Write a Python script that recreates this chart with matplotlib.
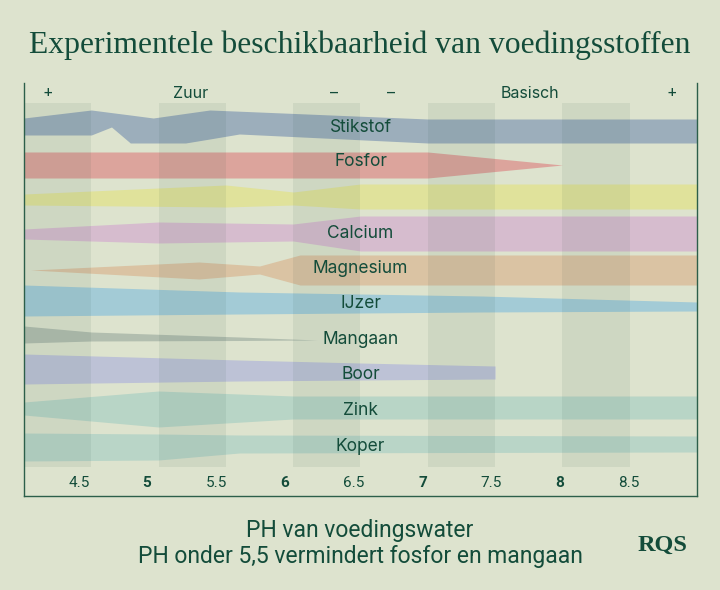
import matplotlib
matplotlib.use("Agg")
import matplotlib.pyplot as plt

BG = "#dde3ce"
DARK = "#134c3a"

# ---- data ----
nutrients = ["Stikstof", "Fosfor", "", "Calcium", "Magnesium", "IJzer",
             "Mangaan", "Boor", "Zink", "Koper"]
colors = ["#9caebb", "#dca49c", "#e0e29b", "#d6bcce", "#dac3a3", "#a3cbd6",
          "#b2beaf", "#bdc2d6", "#b8d5c6", "#b9d5c7"]
label_y = [126, 160, 196, 232, 268, 303, 339, 374, 410, 446]

stik_x = [4.0, 4.5, 4.65, 4.79, 4.96, 5.2, 5.38, 5.6, 7.0, 9.0]
stik_top = [118, 110, 112.6, 115, 118, 113.4, 110, 111.2, 119, 119]
stik_bot = [135, 135, 127, 143, 143, 143, 139, 134, 143, 143]

fos_x = [4.0, 7.0, 8.0]
fos_top = [152, 152, 165]
fos_bot = [178, 178, 165]

kal_x = [4.0, 5.5, 6.0, 6.5, 9.0]
kal_top = [194, 185, 192, 184, 184]
kal_bot = [205, 207, 205, 209, 209]

cal_x = [4.0, 5.0, 6.0, 6.5, 9.0]
cal_top = [229, 222, 224, 216, 216]
cal_bot = [239, 243, 241, 251, 251]

mag_x = [4.05, 5.3, 5.75, 6.05, 9.0]
mag_top = [270, 262, 266, 255, 255]
mag_bot = [270, 279, 274, 285, 285]

ijz_x = [4.0, 5.6, 7.4, 9.0]
ijz_top = [285, 292, 296, 302]
ijz_bot = [316, 314, 312, 311]

man_x = [4.0, 4.5, 5.6, 6.18]
man_top = [326, 332, 337, 340]
man_bot = [343, 341, 340.5, 340]

boor_x = [4.0, 5.6, 6.5, 7.5]
boor_top = [354, 360, 363, 366]
boor_bot = [384, 381, 380, 379]

zink_x = [4.0, 5.0, 6.0, 9.0]
zink_top = [402, 391, 396, 396]
zink_bot = [415, 427, 419, 419]

kop_x = [4.0, 5.0, 5.6, 9.0]
kop_top = [433, 434, 435, 436]
kop_bot = [461, 460, 453, 452]

bands = [(stik_x, stik_top, stik_bot), (fos_x, fos_top, fos_bot),
         (kal_x, kal_top, kal_bot), (cal_x, cal_top, cal_bot),
         (mag_x, mag_top, mag_bot), (ijz_x, ijz_top, ijz_bot),
         (man_x, man_top, man_bot), (boor_x, boor_top, boor_bot),
         (zink_x, zink_top, zink_bot), (kop_x, kop_top, kop_bot)]

col_starts = [4.0, 5.0, 6.0, 7.0, 8.0]
tick_labels = ["4.5", "5", "5.5", "6", "6.5", "7", "7.5", "8", "8.5"]
tick_pos = [4.41, 4.91, 5.43, 5.94, 6.45, 6.96, 7.47, 7.98, 8.49]
header_text = ["+", "Zuur", "–", "–", "Basisch", "+"]
header_x = [4.18, 5.24, 6.30, 6.73, 7.76, 8.81]

# ---- figure ----
fig = plt.figure(figsize=(7.2, 5.9), dpi=100, facecolor=BG)
ax = fig.add_axes([24/720, (590-496)/590, (697-24)/720, (496-83)/590])
ax.set_facecolor(BG)
ax.set_xlim(4.0, 9.0)
ax.set_ylim(496, 83)

for (x, t, b), c in zip(bands, colors):
    ax.fill_between(x, t, b, color=c, lw=0, zorder=1)

for s in col_starts:
    ax.bar(s, 467-103, bottom=103, width=0.5, align="edge",
           color="#1f4a3a", alpha=0.075, lw=0, zorder=2)

lab_font = ["Inter", "DejaVu Sans"]
for name, y in zip(nutrients, label_y):
    if name:
        ax.text(6.5, y + 1, name, ha="center", va="center", fontsize=12.5,
                color=DARK, family=lab_font, zorder=3)

for t, x in zip(header_text, header_x):
    ax.text(x, 93, t, ha="center", va="center", fontsize=11.5,
            color=DARK, family=lab_font, zorder=3)

narrow = ["Roboto", "DejaVu Sans"]
for t, x in zip(tick_labels, tick_pos):
    ax.text(x, 483, t, ha="center", va="center", fontsize=11,
            color=DARK, family=narrow,
            fontweight="bold" if "." not in t else "normal", zorder=3)

ax.set_xticks([])
ax.set_yticks([])
ax.spines["top"].set_visible(False)
for sp in ["left", "right", "bottom"]:
    ax.spines[sp].set_color("#2c5f4a")
    ax.spines[sp].set_linewidth(1.0)

fig.text(0.5, 1 - 45/590, "Experimentele beschikbaarheid van voedingsstoffen",
         ha="center", va="center", fontsize=22.8, color=DARK,
         family=["Liberation Serif", "DejaVu Serif"])
fig.text(0.5, 1 - 530/590, "PH van voedingswater", ha="center", va="center",
         fontsize=16.5, color=DARK, family=narrow)
fig.text(0.5, 1 - 557/590, "PH onder 5,5 vermindert fosfor en mangaan",
         ha="center", va="center", fontsize=16.5, color=DARK, family=narrow)
fig.text(662/720, 1 - 545/590, "RQS", ha="center", va="center", fontsize=17.5,
         color=DARK, fontweight="bold", family=["Liberation Serif", "DejaVu Serif"])

fig.savefig("out.png", dpi=100, facecolor=BG)
